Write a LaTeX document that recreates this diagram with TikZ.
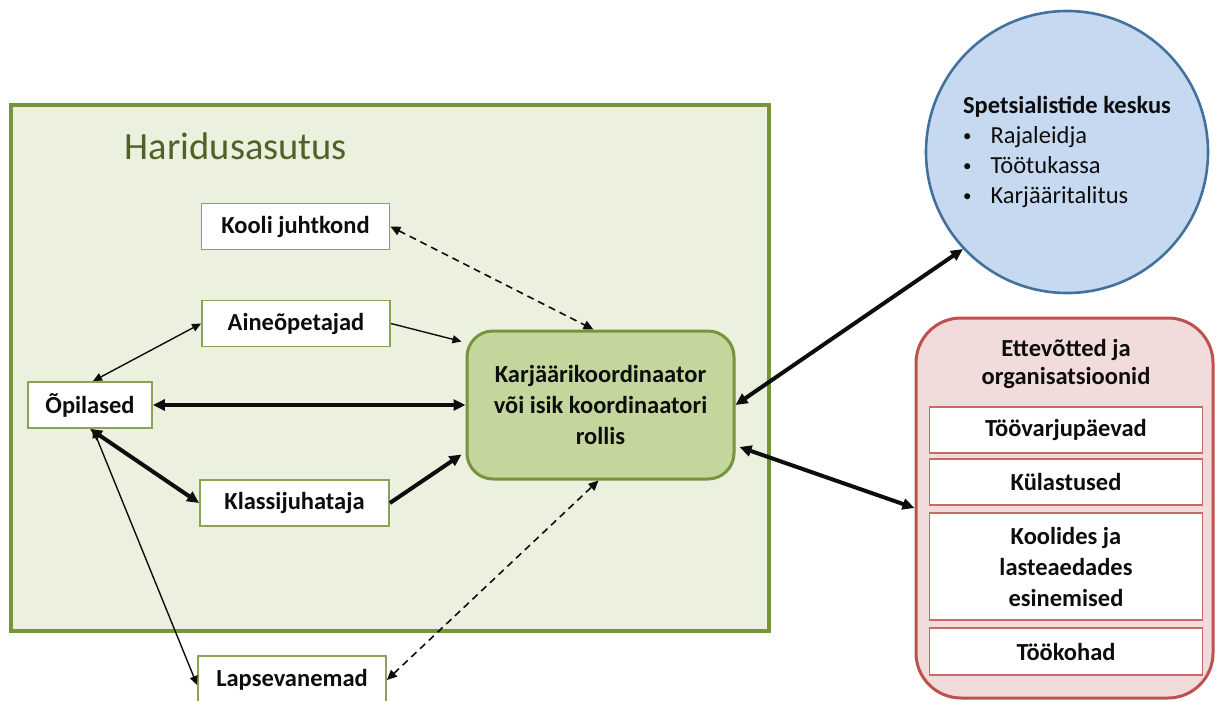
\documentclass[tikz,border=0pt]{standalone}
\usepackage{fontspec}
\setmainfont{Carlito}
\usetikzlibrary{arrows.meta,shapes.geometric}
\definecolor{olivebd}{HTML}{77933C}
\definecolor{olivebg}{HTML}{EBF1DE}
\definecolor{olivemid}{HTML}{C3D69B}
\definecolor{olivetxt}{HTML}{4F6228}
\definecolor{redbd}{HTML}{C0504D}
\definecolor{redbg}{HTML}{F2DCDB}
\definecolor{bluebd}{HTML}{41719C}
\definecolor{bluebg}{HTML}{C6D9F1}
\definecolor{ink}{HTML}{0D0D0D}
\newcommand{\blt}{\hspace*{0pt}\raisebox{2pt}{\fontsize{17}{17}\selectfont •}\hspace{19pt}}
\tikzset{
  lbl/.style={font=\fontsize{24.5}{31}\selectfont\bfseries, text=ink},
  gbox/.style={lbl, draw=olivebd!85, line width=1.8pt, fill=white, inner sep=0pt},
  rbox/.style={lbl, draw=redbd!85, line width=1.8pt, fill=white, inner sep=0pt, minimum width=273pt},
  thin/.style={line width=1.4pt, ink, {Triangle[length=9pt,width=8pt]}-{Triangle[length=9pt,width=8pt]}},
  thinone/.style={line width=1.4pt, ink, -{Triangle[length=9pt,width=8pt]}},
  thick/.style={line width=4pt, ink, {Triangle[length=12pt,width=11pt]}-{Triangle[length=12pt,width=11pt]}},
  thickone/.style={line width=4pt, ink, -{Triangle[length=12pt,width=11pt]}},
  dsh/.style={line width=1.6pt, ink, dash pattern=on 7pt off 5pt, {Triangle[length=10pt,width=9pt]}-{Triangle[length=10pt,width=9pt]}},
}
\begin{document}
\begin{tikzpicture}[x=1pt,y=-1pt]
\useasboundingbox (0,0) rectangle (1216,701);
% containers
\node[draw=olivebd, fill=olivebg, line width=3.5pt, minimum width=758pt, minimum height=526pt, inner sep=0pt] (school) at (390,368) {};
\node[text=olivetxt, font=\fontsize{38.5}{42}\selectfont] (schooltitle) at (236,146) {Haridusasutus};
% boxes
\node[gbox, minimum width=188pt, minimum height=46pt] (kooli) at (295.5,226.5) {Kooli juhtkond};
\node[gbox, minimum width=188pt, minimum height=46pt] (aine) at (296,323.5) {Aineõpetajad};
\node[gbox, minimum width=124pt, minimum height=46pt] (opil) at (90,405) {Õpilased};
\node[gbox, minimum width=189pt, minimum height=46pt] (klass) at (294.5,503) {Klassijuhataja};
\node[gbox, minimum width=188pt, minimum height=48pt] (lapse) at (292,680) {Lapsevanemad};
\node[lbl, draw=olivebd, fill=olivemid, line width=3pt, rounded corners=26pt, minimum width=267pt, minimum height=148pt, align=center, inner sep=0pt] (central) at (600.5,405) {Karjäärikoordinaator\\või isik koordinaatori\\rollis};
% circle
\node[circle, draw=bluebd, fill=bluebg, line width=2.6pt, minimum size=282pt, inner sep=0pt, font=\fontsize{24.5}{30}\selectfont, text=ink, align=left] (spec) at (1067,152) {\textbf{Spetsialistide keskus}\\\blt Rajaleidja\\\blt Töötukassa\\\blt Karjääritalitus};
% red
\node[draw=redbd, fill=redbg, line width=3pt, rounded corners=45pt, minimum width=297pt, minimum height=380pt, inner sep=0pt] (firms) at (1064.5,508) {};
\node[lbl, align=center, font=\fontsize{24.5}{28}\selectfont\bfseries] (firmstitle) at (1066,364) {Ettevõtted ja\\organisatsioonid};
\node[rbox, minimum height=46pt] (too) at (1066,430) {Töövarjupäevad};
\node[rbox, minimum height=46pt] (kyl) at (1066,482) {Külastused};
\node[rbox, minimum height=107pt, align=center, font=\fontsize{24.5}{31}\selectfont\bfseries] (kool) at (1066,566.5) {Koolides ja\\lasteaedades\\esinemised};
\node[rbox, minimum height=47pt] (tkoht) at (1066,651.5) {Töökohad};
% connectors
\draw[dsh] (kooli.east) -- ([xshift=-7pt]central.north);
\draw[thinone] (aine.east) -- ([xshift=-4pt,yshift=-12pt]central.north west);
\draw[thin] ([xshift=3pt]opil.north) -- (aine.west);
\draw[thick] (opil.east) -- (central.west);
\draw[thick] (opil.south) -- (klass.west);
\draw[thickone] (klass.east) -- ([xshift=-4pt,yshift=26pt]central.south west);
\draw[thin] ([xshift=3pt]opil.south) -- ([yshift=-5pt]lapse.west);
\draw[dsh] (lapse.east) -- ([xshift=-2pt]central.south);
\draw[thick] (central.east) -- (spec.223);
\draw[thick] ([xshift=4pt,yshift=-42pt]central.east) -- (firms.west);
\end{tikzpicture}
\end{document}
